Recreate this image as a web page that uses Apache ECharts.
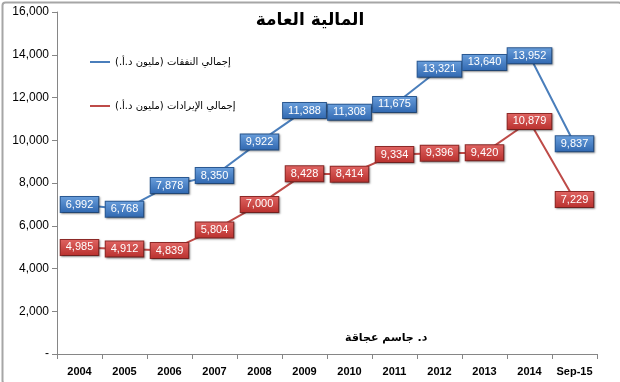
<!DOCTYPE html>
<html><head><meta charset="utf-8">
<script src="https://cdn.jsdelivr.net/npm/echarts@6/dist/echarts.min.js"></script>
<style>html,body{margin:0;padding:0;background:#fff}#c{width:620px;height:382px}</style>
</head><body><div id="c"></div>
<script>
const categories = ['2004','2005','2006','2007','2008','2009','2010','2011','2012','2013','2014','Sep-15'];
const expenditures = [6992, 6768, 7878, 8350, 9922, 11388, 11308, 11675, 13321, 13640, 13952, 9837];
const revenues = [4985, 4912, 4839, 5804, 7000, 8428, 8414, 9334, 9396, 9420, 10879, 7229];
const expName = 'إجمالي النفقات (مليون د.أ.)\u200F';
const revName = 'إجمالي الإيرادات (مليون د.أ.)\u200F';
const titleText = 'المالية العامة';
const authorText = 'د. جاسم عجاقة';

const fmt = v => Number(v).toLocaleString('en-US');
function box(top, bottom, border) {
  return {
    show: true, position: 'inside', color: '#fff', fontSize: 11,
    fontFamily: 'Liberation Sans, Arial, sans-serif',
    formatter: p => fmt(p.value),
    backgroundColor: new echarts.graphic.LinearGradient(0,0,0,1,[{offset:0,color:top},{offset:1,color:bottom}]),
    borderColor: border, borderWidth: 1, padding: [2,5,2,5],
    shadowColor: 'rgba(0,0,0,0.35)', shadowBlur: 2, shadowOffsetX: 1, shadowOffsetY: 1
  };
}
const chart = echarts.init(document.getElementById('c'), null, {renderer:'canvas'});
chart.setOption({
  animation: false,
  backgroundColor: '#fff',
  title: { text: titleText, left: 'center', top: 7,
    textStyle: { fontSize: 17, fontWeight: 'bold', color: '#000', fontFamily: 'DejaVu Sans, sans-serif' } },
  legend: [
    { data: [expName], left: 90, top: 57, padding: 0, orient: 'vertical', icon: 'rect', itemWidth: 20, itemHeight: 2, itemGap: 4,
      textStyle: { fontSize: 10, color: '#000', fontFamily: 'DejaVu Sans, sans-serif' } },
    { data: [revName], left: 90, top: 101, padding: 0, orient: 'vertical', icon: 'rect', itemWidth: 20, itemHeight: 2, itemGap: 4,
      textStyle: { fontSize: 10, color: '#000', fontFamily: 'DejaVu Sans, sans-serif' } }
  ],
  grid: { left: 57, right: 23, top: 12, bottom: 28 },
  xAxis: {
    type: 'category', data: categories, boundaryGap: true,
    axisLine: { lineStyle: { color: '#868686' } },
    axisTick: { show: true, interval: 0, length: 5, lineStyle: { color: '#868686' } },
    axisLabel: { interval: 0, color: '#000', fontSize: 11, fontWeight: 'bold', margin: 12,
      fontFamily: 'Liberation Sans Narrow, Arial Narrow, Liberation Sans, sans-serif' }
  },
  yAxis: {
    type: 'value', min: 0, max: 16000, interval: 2000,
    splitLine: { show: false },
    axisLine: { show: true, lineStyle: { color: '#868686' } },
    axisTick: { show: true, length: 5, lineStyle: { color: '#868686' } },
    axisLabel: { color: '#000', fontSize: 12, margin: 8, fontFamily: 'Liberation Sans, Arial, sans-serif',
      formatter: v => v === 0 ? '-' : fmt(v) }
  },
  series: [
    { name: expName, type: 'line', data: expenditures, symbol: 'circle', symbolSize: 1,
      lineStyle: { color: '#4a7ebb', width: 2 }, itemStyle: { color: '#4a7ebb' },
      label: box('#6a9fdc', '#2f67b0', '#2b5a94'), z: 3 },
    { name: revName, type: 'line', data: revenues, symbol: 'circle', symbolSize: 1,
      lineStyle: { color: '#be4b48', width: 2 }, itemStyle: { color: '#be4b48' },
      label: box('#e06563', '#b9302d', '#8f2a28'), z: 2 }
  ],
  graphic: [
    { type: 'rect', left: 0, top: 0, shape: { width: 619, height: 381, r: 3 }, silent: true,
      style: { fill: 'none', stroke: '#a6a6a6', lineWidth: 2 } },
    { type: 'text', left: 345, top: 333, silent: true,
      style: { text: authorText, fontSize: 11, fontWeight: 'bold', fill: '#000', fontFamily: 'DejaVu Sans, sans-serif' } }
  ]
});
</script></body></html>
